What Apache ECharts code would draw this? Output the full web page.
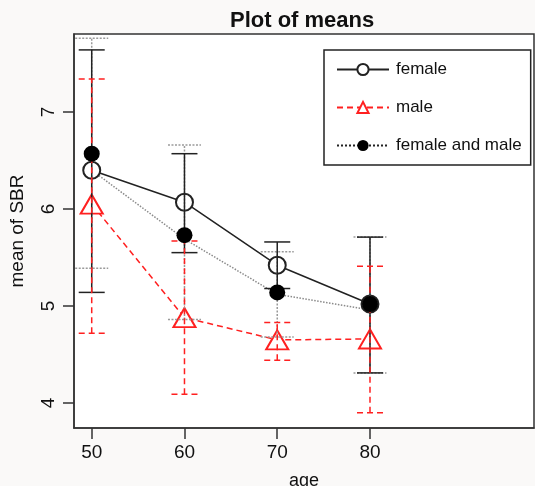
<!DOCTYPE html>
<html>
<head>
<meta charset="utf-8">
<script src="https://cdn.jsdelivr.net/npm/echarts@6/dist/echarts.min.js"></script>
<style>
  html, body { margin: 0; padding: 0; background: #faf9f8; }
  #chart { width: 535px; height: 486px; }
</style>
</head>
<body>
<div id="chart"></div>
<script>
const ages = [50, 60, 70, 80];
const xTicks = [50, 60, 70, 80];
const yTicks = [4, 5, 6, 7];

const femaleMean = [6.40, 6.07, 5.42, 5.02];
const femaleLow = [5.14, 5.55, 5.18, 4.31];
const femaleHigh = [7.64, 6.57, 5.66, 5.71];

const maleMean = [6.05, 4.88, 4.65, 4.66];
const maleLow = [4.72, 4.09, 4.44, 3.90];
const maleHigh = [7.34, 5.67, 4.83, 5.41];

const bothLine = [6.40, 5.69, 5.12, 4.96];
const bothMean = [6.57, 5.73, 5.14, 5.02];
const bothLow = [5.39, 4.86, 4.68, 4.31];
const bothHigh = [7.76, 6.66, 5.56, 5.71];

const fontFamily = "Liberation Sans, Arial, sans-serif";

function pairs(values) {
  return ages.map((a, i) => [a, values[i]]);
}

function errorBars(name, low, high, color, dash, half, z) {
  return {
    type: "custom",
    name,
    z,
    silent: true,
    data: ages.map((a, i) => [a, low[i], high[i]]),
    encode: { x: 0, y: [1, 2] },
    renderItem(params, api) {
      const x = api.value(0);
      const lo = api.coord([x, api.value(1)]);
      const hi = api.coord([x, api.value(2)]);
      const style = { stroke: color, lineWidth: 1.5, lineDash: dash, fill: null };
      return {
        type: "group",
        children: [
          { type: "line", shape: { x1: lo[0], y1: lo[1], x2: hi[0], y2: hi[1] }, style },
          { type: "line", shape: { x1: lo[0] - half, y1: lo[1], x2: lo[0] + half, y2: lo[1] }, style },
          { type: "line", shape: { x1: hi[0] - half, y1: hi[1], x2: hi[0] + half, y2: hi[1] }, style },
        ],
      };
    },
  };
}

const chart = echarts.init(document.getElementById("chart"));

chart.setOption({
  animation: false,
  backgroundColor: "#faf9f8",
  title: {
    text: "Plot of means",
    left: 225,
    top: 5,
    textStyle: { fontFamily, fontSize: 22, fontWeight: "bold", color: "#111" },
  },
  legend: {
    orient: "vertical",
    left: 324,
    top: 50,
    padding: [11, 9, 11, 12],
    itemWidth: 52,
    itemHeight: 14,
    itemGap: 21,
    borderColor: "#222",
    borderWidth: 1.5,
    backgroundColor: "#fff",
    textStyle: { fontFamily, fontSize: 17, color: "#111", padding: [0, 0, 0, 2] },
    data: [
      { name: "female" },
      { name: "male" },
      { name: "female and male", lineStyle: { color: "#222" } },
    ],
  },
  grid: {
    left: 74,
    top: 34,
    right: 1,
    bottom: 58,
    outerBoundsMode: "none",
    containLabel: false,
    show: true,
    backgroundColor: "#fff",
    borderColor: "#333",
    borderWidth: 1.5,
  },
  xAxis: {
    type: "value",
    min: 48.09,
    max: 97.68,
    name: "age",
    nameLocation: "middle",
    nameGap: 44,
    nameTextStyle: { fontFamily, fontSize: 18, color: "#111" },
    splitLine: { show: false },
    axisLine: { lineStyle: { color: "#333", width: 1.5 } },
    axisTick: { customValues: xTicks, length: 11, lineStyle: { color: "#333", width: 1.5 } },
    axisLabel: { customValues: xTicks, margin: 15, fontFamily, fontSize: 19, color: "#111" },
  },
  yAxis: {
    type: "value",
    min: 3.742,
    max: 7.804,
    name: "mean of SBR",
    nameLocation: "middle",
    nameGap: 47,
    nameTextStyle: { fontFamily, fontSize: 19, color: "#111" },
    splitLine: { show: false },
    axisLine: { show: true, lineStyle: { color: "#333", width: 1.5 } },
    axisTick: { show: true, customValues: yTicks, length: 11, lineStyle: { color: "#333", width: 1.5 } },
    axisLabel: { customValues: yTicks, rotate: 90, margin: 16, fontFamily, fontSize: 19, color: "#111" },
  },
  series: [
    {
      name: "female and male",
      type: "line",
      z: 2,
      data: pairs(bothLine),
      symbol: "circle",
      showSymbol: false,
      itemStyle: { color: "#000" },
      lineStyle: { color: "#8a8a8a", width: 1.5, type: "dotted" },
    },
    {
      name: "female",
      type: "line",
      z: 2,
      data: pairs(femaleMean),
      symbol: "emptyCircle",
      symbolSize: 17,
      itemStyle: { color: "#222", borderWidth: 1.5 },
      lineStyle: { color: "#222", width: 1.5 },
    },
    {
      name: "male",
      type: "line",
      z: 2,
      data: pairs(maleMean),
      symbol: "emptyTriangle",
      symbolSize: [22, 19],
      itemStyle: { color: "#ff2020", borderWidth: 1.5 },
      lineStyle: { color: "#ff2020", width: 1.5, type: [6, 4] },
    },
    errorBars("bars both", bothLow, bothHigh, "#9a9a9a", [2, 1.5], 16.5, 3),
    errorBars("bars female", femaleLow, femaleHigh, "#222", null, 13, 3),
    errorBars("bars male", maleLow, maleHigh, "#ff2020", [6, 4], 13, 3),
    {
      name: "female and male points",
      type: "scatter",
      z: 4,
      data: pairs(bothMean),
      symbol: "circle",
      symbolSize: 16,
      itemStyle: { color: "#000", opacity: 1 },
    },
  ],
});
</script>
</body>
</html>
